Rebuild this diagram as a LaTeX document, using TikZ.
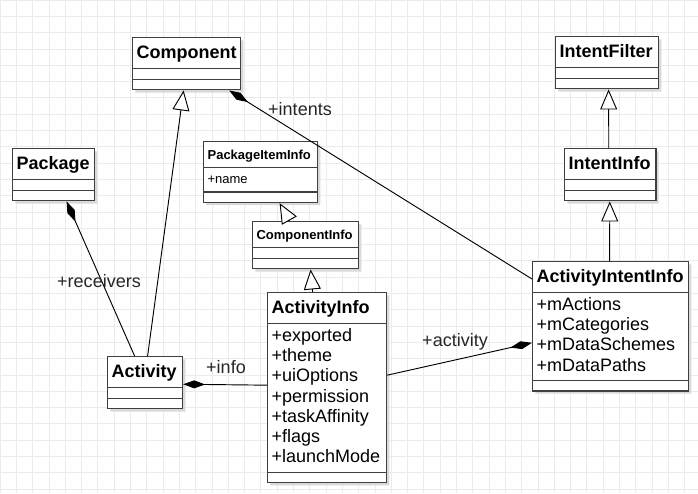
\documentclass[tikz,border=0pt]{standalone}
\usepackage{fontspec}
\setmainfont{Liberation Sans}
\usetikzlibrary{shapes.multipart,shadows,arrows.meta,calc}

\newcommand{\ctitle}[1]{\centering\rule[-5pt]{0pt}{18.5pt}\textbf{#1}}
\newcommand{\stitle}[1]{\centering\rule[-4pt]{0pt}{14.75pt}\textbf{#1}}
\newcommand{\cempty}{\rule{0pt}{3pt}}

\tikzset{
  umlclass/.style={rectangle split, rectangle split parts=3, draw=black!75, line width=0.9pt,
    fill=white, inner xsep=3pt, inner ysep=2pt, align=left, anchor=north west,
    text width=#1, font=\fontsize{13.5}{15.2}\selectfont,
    drop shadow={shadow xshift=2pt, shadow yshift=-2pt, fill=black!15, opacity=1}},
  smallclass/.style={umlclass=#1, font=\fontsize{9.75}{13.25}\selectfont},
  inherit/.style={draw=black, line width=0.7pt, -{Triangle[length=15pt, width=12.75pt, fill=white]}},
  compose/.style={draw=black, line width=0.7pt, {Diamond[length=16.5pt, width=6pt]}-},
  role/.style={font=\fontsize{13.5}{15.2}\selectfont, text=black!85, inner sep=0pt},
  gridline/.style={draw=black!8, line width=0.6pt}
}

\begin{document}
\begin{tikzpicture}[x=0.75pt, y=-0.75pt]
  \useasboundingbox[fill=white] (0,0) rectangle (698,493);
  \draw[gridline, step=12.225pt] (0,493) grid (698,0);

  \node[umlclass=75pt] (Component) at (132,37) {\ctitle{Component}\nodepart{two}\cempty\nodepart{three}\cempty};
  \node[umlclass=55.5pt] (Package) at (12,148) {\ctitle{Package}\nodepart{two}\cempty\nodepart{three}\cempty};
  \node[smallclass=79.5pt] (PackageItemInfo) at (203,141) {\stitle{PackageItemInfo}\nodepart{two}\strut+name\strut\nodepart{three}\cempty};
  \node[smallclass=73.5pt] (ComponentInfo) at (252,221) {\stitle{ComponentInfo}\nodepart{two}\cempty\nodepart{three}\cempty};
  \node[umlclass=83.25pt] (ActivityInfo) at (267,292) {\ctitle{ActivityInfo}\nodepart{two}\strut+exported\\+theme\\+uiOptions\\+permission\\+taskAffinity\\+flags\\+launchMode\strut\nodepart{three}\cempty};
  \node[umlclass=111pt] (ActivityIntentInfo) at (532,261) {\ctitle{ActivityIntentInfo}\nodepart{two}\strut+mActions\\+mCategories\\+mDataSchemes\\+mDataPaths\strut\nodepart{three}\cempty};
  \node[umlclass=71.25pt] (IntentFilter) at (555,36) {\ctitle{IntentFilter}\nodepart{two}\cempty\nodepart{three}\cempty};
  \node[umlclass=62.5pt] (IntentInfo) at (564,148) {\ctitle{IntentInfo}\nodepart{two}\cempty\nodepart{three}\cempty};
  \node[umlclass=50.25pt] (Activity) at (107,356) {\ctitle{Activity}\nodepart{two}\cempty\nodepart{three}\cempty};

  % generalizations
  \draw[inherit] ($(Activity.north)+(2.5,0)$) -- ($(Component.south)+(-3,0)$);
  \draw[inherit] ($(ComponentInfo.north)+(-16,0)$) -- ($(PackageItemInfo.south)+(19,0)$);
  \draw[inherit] ($(ActivityInfo.north)+(-14.5,0)$) -- ($(ComponentInfo.south)+(5,0)$);
  \draw[inherit] ($(IntentInfo.north)+(-1.5,0)$) -- ($(IntentFilter.south)+(1.5,0)$);
  \draw[inherit] ($(ActivityIntentInfo.north)+(-1,0)$) -- ($(IntentInfo.south)+(-0.5,0)$);

  \draw[compose] ($(Package.south)+(13,0)$) -- ($(Activity.north)+(-10.5,0)$);
  \draw[compose] ($(Component.south east)+(-12,0)$) -- ($(ActivityIntentInfo.north west)+(0,18)$);
  \draw[compose] ($(Activity.east)+(0,1.5)$) -- ($(ActivityInfo.west)+(0,-2.5)$);
  \draw[compose] ($(ActivityIntentInfo.west)+(0,16.5)$) -- ($(ActivityInfo.east)+(0,-12.5)$);

  \node[role] (intentsLbl) at (300,109) {+intents};
  \node[role] (receiversLbl) at (99,281) {+receivers};
  \node[role] (infoLbl) at (226,367) {+info};
  \node[role] (activityLbl) at (455,342) {+activity};
\end{tikzpicture}
\end{document}
